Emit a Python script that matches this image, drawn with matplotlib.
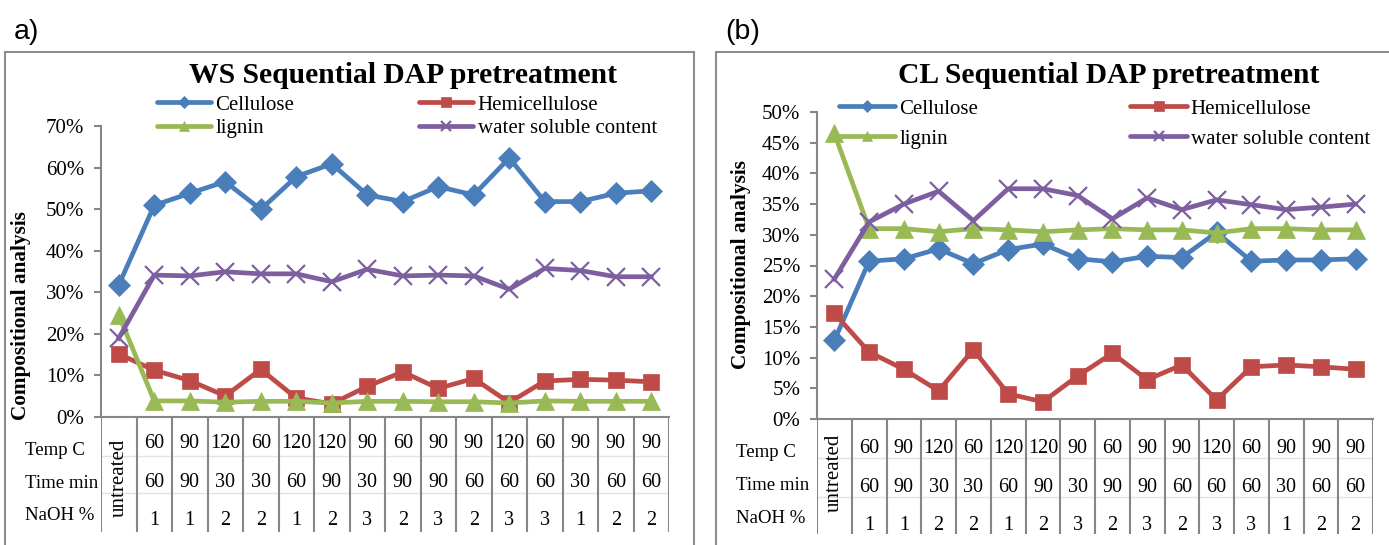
import matplotlib
matplotlib.use("Agg")
import matplotlib.pyplot as plt
from matplotlib.lines import Line2D
from matplotlib.patches import Rectangle
from matplotlib.ticker import MultipleLocator, PercentFormatter
import numpy as np

W, H, DPI = 1389, 545, 100

# pretreatment conditions under each category (first category is untreated)
temp_c = ["60", "90", "120", "60", "120", "120", "90", "60", "90", "90", "120", "60", "90", "90", "90"]
time_min = ["60", "90", "30", "30", "60", "90", "30", "90", "90", "60", "60", "60", "30", "60", "60"]
naoh_pct = ["1", "1", "2", "2", "1", "2", "3", "2", "3", "2", "3", "3", "1", "2", "2"]
row_labels = ["Temp C", "Time min", "NaOH %"]

series_names = ["Cellulose", "Hemicellulose", "lignin", "water soluble content"]

# wheat straw (WS), % of dry matter
ws_cellulose = [31.7, 50.9, 53.8, 56.6, 49.9, 57.8, 60.9, 53.4, 51.8, 55.4, 53.4, 62.3, 51.8, 51.8, 53.8, 54.4]
ws_hemicellulose = [15.1, 11.2, 8.7, 5.0, 11.4, 4.5, 3.1, 7.3, 10.8, 6.8, 9.2, 3.4, 8.6, 9.0, 8.8, 8.4]
ws_lignin = [24.5, 3.8, 3.8, 3.5, 3.7, 3.7, 3.3, 3.7, 3.7, 3.6, 3.6, 3.3, 3.8, 3.7, 3.7, 3.7]
ws_water_soluble = [18.9, 34.1, 33.9, 34.9, 34.4, 34.4, 32.5, 35.5, 33.9, 34.1, 33.9, 30.7, 35.7, 35.2, 33.7, 33.7]

# CL, % of dry matter
cl_cellulose = [12.8, 25.7, 26.1, 27.7, 25.3, 27.6, 28.5, 26.1, 25.6, 26.5, 26.3, 30.4, 25.7, 25.9, 25.9, 26.1]
cl_hemicellulose = [17.2, 10.9, 8.1, 4.6, 11.3, 4.1, 2.8, 7.0, 10.7, 6.4, 8.8, 3.1, 8.5, 8.8, 8.5, 8.1]
cl_lignin = [46.5, 31.0, 31.0, 30.5, 31.0, 30.8, 30.5, 30.8, 31.0, 30.8, 30.8, 30.3, 31.0, 31.0, 30.8, 30.8]
cl_water_soluble = [22.8, 32.1, 35.0, 37.1, 32.3, 37.5, 37.5, 36.4, 32.6, 36.0, 34.1, 35.7, 34.9, 34.1, 34.5, 35.0]

COLORS = ["#4a7ebb", "#be4b48", "#98b954", "#7d5fa0"]
MARKERS = ["D", "s", "^", "x"]
MSIZES = [11, 12, 13, 13]
GRID_GRAY = "#868686"
SERIF = "Liberation Serif"
SANS = "Liberation Sans"


def fig_rect(x0, y0, x1, y1):
    """Pixel box (top-left origin) -> figure fraction [l, b, w, h]."""
    return [x0 / W, 1 - y1 / H, (x1 - x0) / W, (y1 - y0) / H]


def draw_panel(fig, values, spec):
    # outer frame of the panel
    bx0, by0, bx1, by1 = spec["box"]
    fig.add_artist(Rectangle((bx0 / W, 1 - by1 / H), (bx1 - bx0) / W, (by1 - by0) / H,
                             transform=fig.transFigure, fill=False,
                             edgecolor="#8c8c8c", linewidth=1.5, clip_on=False))
    fig.text(spec["tag_xy"][0] / W, 1 - spec["tag_xy"][1] / H, spec["tag"],
             family=SANS, fontsize=20.5, ha="left", va="center")

    ax0, ax1 = spec["ax_x"]
    ytop, ybot = spec["ax_y"]
    ax = fig.add_axes(fig_rect(ax0, ytop, ax1, ybot))
    x = np.arange(len(values[0]))
    handles = []
    for vals, name, c, m, ms in zip(values, series_names, COLORS, MARKERS, MSIZES):
        mew = 1.6 if m == "x" else 0.5
        ax.plot(x, vals, color=c, lw=3.4, marker=m, ms=ms, mec=c, mfc=c, mew=mew,
                clip_on=False, solid_joinstyle="round")
        handles.append(Line2D([], [], color=c, lw=3.4, marker=m, ms=ms * 0.55, mec=c, mfc=c,
                              mew=mew, solid_capstyle="round"))

    ax.set_xlim(-0.5, len(x) - 0.5)
    ax.set_ylim(0, spec["ymax"])
    ax.yaxis.set_major_locator(MultipleLocator(spec["ystep"]))
    ax.yaxis.set_major_formatter(PercentFormatter(xmax=100, decimals=0))
    ax.set_xticks([])
    for s in ("top", "right"):
        ax.spines[s].set_visible(False)
    for s in ("left", "bottom"):
        ax.spines[s].set_color(GRID_GRAY)
        ax.spines[s].set_linewidth(1.5)
    ax.tick_params(axis="y", direction="out", length=5, width=1.5, color=GRID_GRAY,
                   pad=7, labelsize=15)
    for lab in ax.get_yticklabels():
        lab.set_family(SERIF)
    ax.patch.set_alpha(0)

    fig.text(spec["title_x"] / W, 1 - 75 / H, spec["title"], family=SERIF,
             fontweight="bold", fontsize=21.3, ha="center", va="center")
    fig.text(spec["ylab_xy"][0] / W, 1 - spec["ylab_xy"][1] / H, "Compositional analysis",
             family=SERIF, fontweight="bold", fontsize=15.3, rotation=90,
             ha="center", va="center")

    lx, ly = spec["legend_xy"]
    order = [0, 2, 1, 3]
    ax.legend([handles[i] for i in order], [series_names[i] for i in order], ncol=2,
              loc="upper left", bbox_to_anchor=(lx / W, 1 - ly / H),
              bbox_transform=fig.transFigure, frameon=False, borderpad=0,
              borderaxespad=0, handlelength=spec["hlen"], handletextpad=0.2,
              columnspacing=spec["colspace"], labelspacing=spec["lspace"],
              prop={"family": SERIF, "size": 15})

    # category table under the x axis
    tbot = spec["table_bottom"]
    tax = fig.add_axes(fig_rect(ax0, ybot, ax1, tbot))
    tax.set_xlim(-0.5, len(x) - 0.5)
    tax.set_ylim(tbot, ybot)
    tax.axis("off")
    for sep in spec["row_seps"]:
        tax.plot([-0.5, len(x) - 0.5], [sep, sep], color="#e3e3e3", lw=1)
    tax.vlines(np.arange(len(x) + 1) - 0.5, ybot, tbot, color=GRID_GRAY, lw=1.5)
    tax.text(0, spec["untreated_y"], "untreated", family=SERIF, fontsize=15,
             rotation=90, ha="center", va="center")
    for row, base in zip([temp_c, time_min, naoh_pct], spec["num_base"]):
        for i, s in enumerate(row):
            tax.text(i + 1, base, s, family=SERIF, fontsize=14.5, ha="center", va="baseline")
    for lab, base in zip(row_labels, spec["lab_base"]):
        fig.text(spec["lab_x"] / W, 1 - base / H, lab, family=SERIF, fontsize=13.5,
                 ha="left", va="baseline")


fig = plt.figure(figsize=(W / DPI, H / DPI), dpi=DPI)

draw_panel(fig, [ws_cellulose, ws_hemicellulose, ws_lignin, ws_water_soluble], dict(
    box=(5, 52, 693.5, 560), tag="a)", tag_xy=(14, 32),
    ax_x=(101, 669), ax_y=(126, 416.7), ymax=70, ystep=10,
    title="WS Sequential DAP pretreatment", title_x=403, ylab_xy=(21, 316),
    legend_xy=(157, 95), hlen=2.6, colspace=6.0, lspace=0.2,
    table_bottom=532, row_seps=(456, 493), untreated_y=478,
    num_base=(448, 487, 525), lab_base=(455, 488, 520), lab_x=25))

draw_panel(fig, [cl_cellulose, cl_hemicellulose, cl_lignin, cl_water_soluble], dict(
    box=(716.5, 52, 1400, 560), tag="(b)", tag_xy=(725, 32),
    ax_x=(817, 1373), ax_y=(112, 419), ymax=50, ystep=5,
    title="CL Sequential DAP pretreatment", title_x=1109, ylab_xy=(741, 265),
    legend_xy=(839, 99), hlen=2.7, colspace=7.3, lspace=0.5,
    table_bottom=534, row_seps=(458, 497), untreated_y=473,
    num_base=(453, 492, 530), lab_base=(457, 490, 523), lab_x=736))

fig.savefig("out.png", dpi=DPI)
